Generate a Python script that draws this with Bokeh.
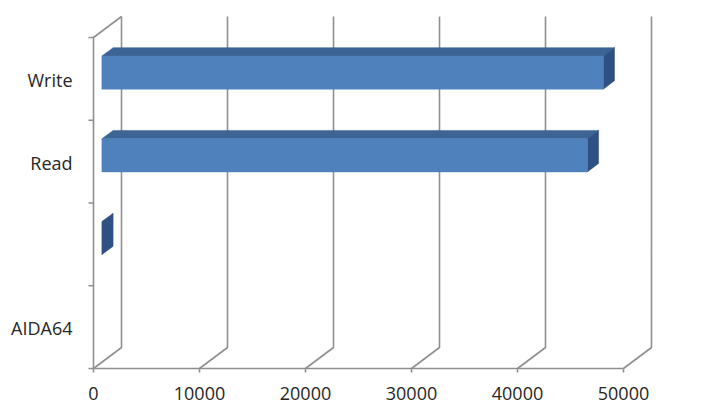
from bokeh.plotting import figure
from bokeh.embed import file_html
from bokeh.resources import INLINE
from bokeh.core.properties import value
import math

# ---- data ----
categories = ["AIDA64", "", "Read", "Write"]
values = [float("nan"), 0, 45800, 47300]
x_ticks = [0, 10000, 20000, 30000, 40000, 50000]
x_tick_labels = ["0", "10000", "20000", "30000", "40000", "50000"]

# ---- layout constants (pixels) ----
W, H = 702, 409
PX_PER_UNIT_X = 10.6 / 1000.0   # px per value unit
PX_PER_CAT = 82.75              # px per category
X0_PX = 93                      # value 0 from frame left
Y0_PX = 368                     # floor front from frame top

xmin = -X0_PX / PX_PER_UNIT_X
xmax = xmin + W / PX_PER_UNIT_X
ymax = Y0_PX / PX_PER_CAT
ymin = ymax - H / PX_PER_CAT


def px_x(px):
    return px / PX_PER_UNIT_X


def px_y(px):
    return px / PX_PER_CAT


DEPTH_X = px_x(28)
DEPTH_Y = px_y(21)
ncat = len(categories)

p = figure(width=W, height=H, x_range=(xmin, xmax), y_range=(ymin, ymax),
           output_backend="svg", toolbar_location=None,
           x_axis_location=None, y_axis_location=None, min_border=0)
p.outline_line_color = None
p.grid.visible = False
p.background_fill_color = "white"
p.border_fill_color = "white"

GRID = "#8f8f8f"
LW = 1.6

xs, ys = [], []
xmax_tick = x_ticks[-1]
# back wall verticals + floor diagonals
for t in x_ticks:
    xs.append([t, t + DEPTH_X, t + DEPTH_X])
    ys.append([0, DEPTH_Y, ncat + DEPTH_Y])
    # tick marks below floor line
    xs.append([t, t])
    ys.append([0, -px_y(4)])
# left wall
xs.append([0, 0, DEPTH_X])
ys.append([0, ncat, ncat + DEPTH_Y])
# floor front line
xs.append([0, xmax_tick])
ys.append([0, 0])
# category boundary ticks
for b in range(ncat + 1):
    xs.append([-px_x(5), 0])
    ys.append([b, b])
p.multi_line(xs=xs, ys=ys, line_color=GRID, line_width=LW)

# ---- 3D bars ----
FRONT = "#4f81bd"
TOP = "#3c6494"
SIDE = "#2f5082"
fx = 0.3 * DEPTH_X
fy = 0.3 * DEPTH_Y
bdx = 0.4 * DEPTH_X
bdy = 0.4 * DEPTH_Y
half = 0.2

q_l, q_r, q_b, q_t = [], [], [], []
top_xs, top_ys, side_xs, side_ys = [], [], [], []
for i, v in enumerate(values):
    if v is None or (isinstance(v, float) and math.isnan(v)):
        continue
    c = i + 0.5
    bot = c - half + fy
    top = c + half + fy
    left = fx
    right = v + fx
    if v > 0:
        q_l.append(left); q_r.append(right); q_b.append(bot); q_t.append(top)
        top_xs.append([left, right, right + bdx, left + bdx])
        top_ys.append([top, top, top + bdy, top + bdy])
    side_xs.append([right, right, right + bdx, right + bdx])
    side_ys.append([bot, top, top + bdy, bot + bdy])

p.patches(xs=top_xs, ys=top_ys, fill_color=TOP, line_color=TOP, line_width=0.5)
p.patches(xs=side_xs, ys=side_ys, fill_color=SIDE, line_color=SIDE, line_width=0.5)
p.quad(left=q_l, right=q_r, bottom=q_b, top=q_t, fill_color=FRONT, line_color=FRONT, line_width=0.5)

# ---- labels ----
FONT = value("Open Sans")
TXT = "#262626"
lab_x, lab_y, lab_t = [], [], []
for i, c in enumerate(categories):
    if c:
        lab_x.append(-px_x(21)); lab_y.append(i + 0.5 - px_y(1)); lab_t.append(c)
p.text(x=lab_x, y=lab_y, text=lab_t, text_font=FONT, text_font_size="18px",
       text_color=TXT, text_align="right", text_baseline="middle")

p.text(x=x_ticks, y=[-px_y(25)] * len(x_ticks), text=x_tick_labels, text_font=FONT,
       text_font_size="18px", text_color=TXT, text_align="center", text_baseline="middle")

open("out.html", "w").write(file_html(p, INLINE))
